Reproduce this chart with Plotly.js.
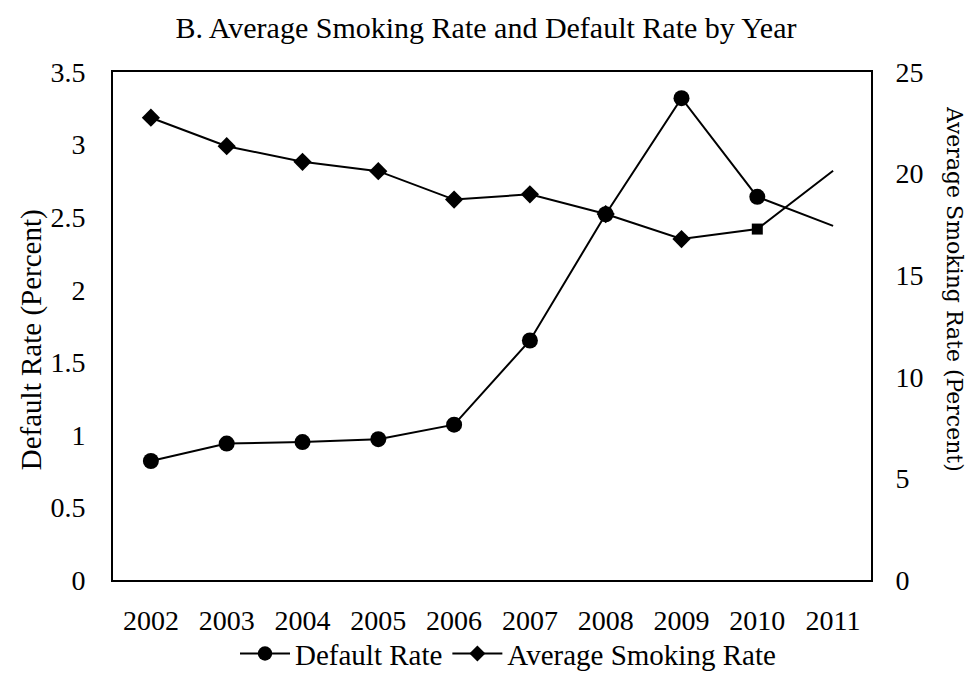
<!DOCTYPE html>
<html>
<head>
<meta charset="utf-8">
<script src="https://cdn.plot.ly/plotly-3.0.1.min.js"></script>
<style>html,body{margin:0;padding:0;background:#fff;}#chart{width:969px;height:684px;}</style>
</head>
<body>
<div id="chart"></div>
<script>
const years = ['2002','2003','2004','2005','2006','2007','2008','2009','2010','2011'];
const defaultRate = [0.82, 0.94, 0.95, 0.97, 1.07, 1.65, 2.52, 3.32, 2.64, 2.44];
const smokingRate = [22.75, 21.35, 20.58, 20.12, 18.72, 18.98, 18.01, 16.78, 17.27, 20.14];
const leftTicks = [0, 0.5, 1, 1.5, 2, 2.5, 3, 3.5];
const rightTicks = [0, 5, 10, 15, 20, 25];

const serif = 'Liberation Serif, Times New Roman, serif';
const last = years.length - 1;

const traces = [
  {
    x: years, y: defaultRate, name: 'Default Rate', type: 'scatter', mode: 'lines+markers',
    yaxis: 'y',
    line: {color: '#000', width: 2},
    marker: {color: '#000', opacity: 1, line: {width: 0, color: '#000'}, symbol: 'circle',
             size: years.map((_, i) => i === last ? 0 : 16)}
  },
  {
    x: years, y: smokingRate, name: 'Average Smoking Rate', type: 'scatter', mode: 'lines+markers',
    yaxis: 'y2',
    line: {color: '#000', width: 2},
    marker: {color: '#000', opacity: 1, line: {width: 0, color: '#000'},
             size: years.map((_, i) => i === last ? 0 : (i === 8 ? 11 : 14)),
             symbol: years.map((_, i) => i === 8 ? 'square' : 'diamond')}
  }
];

const layout = {
  width: 969, height: 684,
  paper_bgcolor: '#fff', plot_bgcolor: '#fff',
  margin: {l: 113, r: 98, t: 72, b: 104, autoexpand: false},
  font: {family: serif, color: '#000', size: 28},
  title: {text: 'B. Average Smoking Rate and Default Rate by Year', font: {family: serif, size: 30, color: '#000'},
          x: (486 - 113) / 758, xref: 'paper', xanchor: 'center', y: 1 - 27/684, yref: 'container', yanchor: 'middle'},
  showlegend: true,
  legend: {orientation: 'h', x: (508 - 113) / 758, xanchor: 'center', y: -0.145, yanchor: 'middle',
           itemwidth: 50,
           font: {family: serif, size: 29, color: '#000'}, bgcolor: 'rgba(0,0,0,0)'},
  xaxis: {
    type: 'category', categoryorder: 'array', categoryarray: years, range: [-0.5, 9.5],
    showline: true, linecolor: '#000', linewidth: 2, mirror: true, automargin: false,
    showgrid: false, zeroline: false, ticks: '',
    ticklabelstandoff: 14,
    tickfont: {family: serif, size: 28, color: '#000'}
  },
  yaxis: {
    range: [0, 3.5], tickvals: leftTicks, ticktext: leftTicks.map(String), automargin: false,
    showline: true, linecolor: '#000', linewidth: 2,
    showgrid: false, zeroline: false, ticks: '',
    ticklabelstandoff: 20,
    tickfont: {family: serif, size: 28, color: '#000'}
  },
  yaxis2: {
    range: [0, 25], tickvals: rightTicks, ticktext: rightTicks.map(String), automargin: false,
    overlaying: 'y', side: 'right',
    showline: true, linecolor: '#000', linewidth: 2,
    showgrid: false, zeroline: false, ticks: '',
    ticklabelstandoff: 17,
    tickfont: {family: serif, size: 28, color: '#000'}
  },
  annotations: [
    {text: 'Default Rate (Percent)', xref: 'paper', yref: 'paper', x: (31 - 113) / 758, y: 0.472,
     xanchor: 'center', yanchor: 'middle', textangle: -90, showarrow: false,
     font: {family: serif, size: 29, color: '#000'}},
    {text: 'Average Smoking Rate (Percent)', xref: 'paper', yref: 'paper', x: (954 - 113) / 758, y: 0.573,
     xanchor: 'center', yanchor: 'middle', textangle: 90, showarrow: false,
     font: {family: 'DejaVu Serif, serif', size: 22, color: '#000'}}
  ]
};

Plotly.newPlot('chart', traces, layout, {displayModeBar: false, staticPlot: true});
</script>
</body>
</html>
